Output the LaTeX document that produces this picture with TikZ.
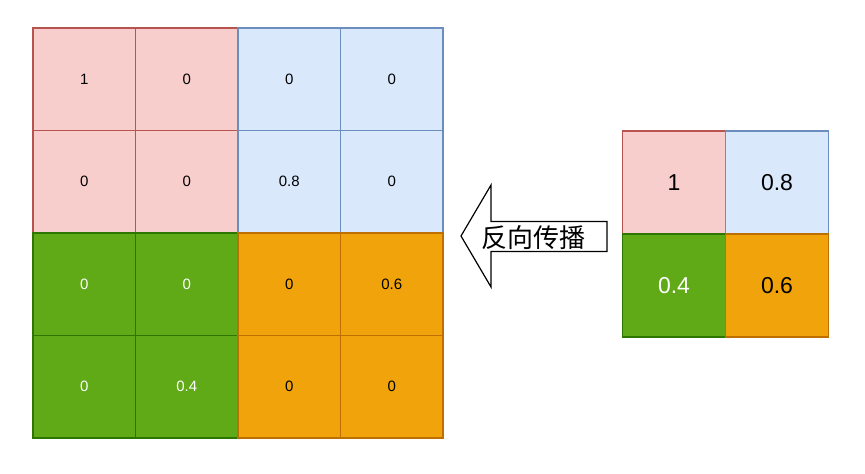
\documentclass[tikz,border=0pt]{standalone}
\usepackage{fontspec}
\setmainfont{Liberation Sans}
\newfontfamily\cjk{Noto Sans CJK SC}
\definecolor{rfill}{HTML}{F8CECC}\definecolor{rdraw}{HTML}{B85450}
\definecolor{bfill}{HTML}{DAE8FC}\definecolor{bdraw}{HTML}{6C8EBF}
\definecolor{gfill}{HTML}{60A917}\definecolor{gdraw}{HTML}{2D7600}
\definecolor{ofill}{HTML}{F0A30A}\definecolor{odraw}{HTML}{BD7000}
\begin{document}
\begin{tikzpicture}[x=1pt,y=-1pt,
  cell/.style={minimum width=102.5pt,minimum height=102.5pt,inner sep=0pt,line width=1.2pt,font=\fontsize{15}{15}\selectfont},
  bcell/.style={minimum width=103pt,minimum height=103pt,inner sep=0pt,line width=1.2pt,font=\fontsize{23}{23}\selectfont},
  rc/.style={fill=rfill,draw=rdraw,text=black},
  bc/.style={fill=bfill,draw=bdraw,text=black},
  gc/.style={fill=gfill,draw=gdraw,text=white},
  oc/.style={fill=ofill,draw=odraw,text=black}]
\useasboundingbox (0,0) rectangle (865,474);
% left grid
\def\cs{102.5}
\node[cell,rc] (a11) at (33+0.5*\cs,28+0.5*\cs) {1};
\node[cell,rc] (a12) at (33+1.5*\cs,28+0.5*\cs) {0};
\node[cell,rc] (a21) at (33+0.5*\cs,28+1.5*\cs) {0};
\node[cell,rc] (a22) at (33+1.5*\cs,28+1.5*\cs) {0};
\node[cell,bc] (a13) at (33+2.5*\cs,28+0.5*\cs) {0};
\node[cell,bc] (a14) at (33+3.5*\cs,28+0.5*\cs) {0};
\node[cell,bc] (a23) at (33+2.5*\cs,28+1.5*\cs) {0.8};
\node[cell,bc] (a24) at (33+3.5*\cs,28+1.5*\cs) {0};
\node[cell,gc] (a31) at (33+0.5*\cs,28+2.5*\cs) {0};
\node[cell,gc] (a32) at (33+1.5*\cs,28+2.5*\cs) {0};
\node[cell,gc] (a41) at (33+0.5*\cs,28+3.5*\cs) {0};
\node[cell,gc] (a42) at (33+1.5*\cs,28+3.5*\cs) {0.4};
\node[cell,oc] (a33) at (33+2.5*\cs,28+2.5*\cs) {0};
\node[cell,oc] (a34) at (33+3.5*\cs,28+2.5*\cs) {0.6};
\node[cell,oc] (a43) at (33+2.5*\cs,28+3.5*\cs) {0};
\node[cell,oc] (a44) at (33+3.5*\cs,28+3.5*\cs) {0};
% right grid
\node[bcell,rc] (b11) at (622.5+51.5,131+51.5) {1};
\node[bcell,bc] (b12) at (622.5+154.5,131+51.5) {0.8};
\node[bcell,gc] (b21) at (622.5+51.5,131+154.5) {0.4};
\node[bcell,oc] (b22) at (622.5+154.5,131+154.5) {0.6};
% arrow
\draw[line width=1.2pt,fill=white,line join=miter]
  (461,236) -- (491,185) -- (491,221.5) -- (607,221.5) -- (607,251.5) -- (491,251.5) -- (491,287) -- cycle;
\node[font=\cjk\fontsize{26}{26}\selectfont,inner sep=0pt] (lbl) at (533.5,238) {反向传播};
\end{tikzpicture}
\end{document}
